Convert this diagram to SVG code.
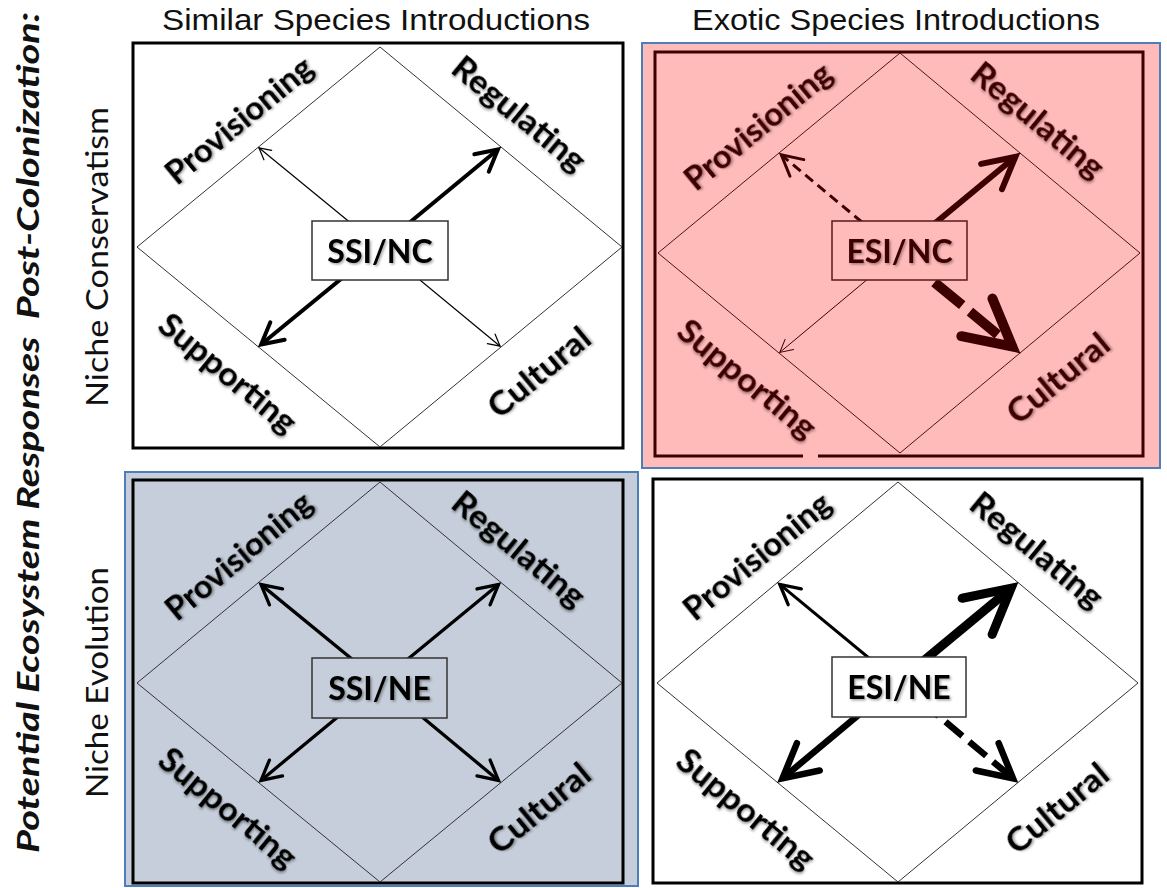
<svg xmlns="http://www.w3.org/2000/svg" width="1167" height="888" viewBox="0 0 1167 888">
<style>
.hdr{font-family:"Liberation Sans",Arial,sans-serif;font-size:30px;text-anchor:middle;fill:#111}
.side{font-family:Lato,"Liberation Sans",sans-serif;font-size:30px;text-anchor:middle;fill:#111}
.title{font-family:Lato,"Liberation Sans",sans-serif;font-size:31px;font-weight:700;font-style:italic;text-anchor:middle;fill:#111}
.lbl{font-family:Lato,"Liberation Sans",sans-serif;font-size:32px;font-weight:700;text-anchor:middle;dominant-baseline:central;fill:#000;filter:url(#sh)}
.lbl.red{fill:#3c0000}
.bt{font-family:Lato,"Liberation Sans",sans-serif;font-size:32px;font-weight:700;text-anchor:middle;fill:#000;filter:url(#sh)}
.bt.red{fill:#3c0000}
.frame{fill:none;stroke:#000;stroke-width:3}
.dia{fill:none;stroke:#333;stroke-width:1}
.dia.red{stroke:#4a1414}
.box{fill:#fff;stroke:#333;stroke-width:1.5}
.blue{stroke:#4f7db8;stroke-width:2}
.k{fill:none;stroke:#000;stroke-linecap:butt}
.r{fill:none;stroke:#3c0000;stroke-linecap:butt}
</style>
<defs>
<filter id="sh" x="-20%" y="-40%" width="140%" height="180%"><feDropShadow dx="1.5" dy="1.5" stdDeviation="1.2" flood-color="#000" flood-opacity="0.35"/></filter>
<marker id="k1" markerUnits="userSpaceOnUse" orient="auto" overflow="visible" markerWidth="10" markerHeight="10"><path d="M-11.5,-6.1L0,0L-11.5,6.1" fill="none" stroke="#000" stroke-width="1.2" stroke-linecap="round"/></marker>
<marker id="k3" markerUnits="userSpaceOnUse" orient="auto" overflow="visible" markerWidth="10" markerHeight="10"><path d="M-19.4,-10.3L0,0L-19.4,10.3" fill="none" stroke="#000" stroke-width="3.3" stroke-linecap="round"/></marker>
<marker id="k4" markerUnits="userSpaceOnUse" orient="auto" overflow="visible" markerWidth="10" markerHeight="10"><path d="M-21.2,-11.3L0,0L-21.2,11.3" fill="none" stroke="#000" stroke-width="4" stroke-linecap="round"/></marker>
<marker id="k65" markerUnits="userSpaceOnUse" orient="auto" overflow="visible" markerWidth="10" markerHeight="10"><path d="M-33.6,-17.8L0,0L-33.6,17.8" fill="none" stroke="#000" stroke-width="6.5" stroke-linecap="round"/></marker>
<marker id="k9" markerUnits="userSpaceOnUse" orient="auto" overflow="visible" markerWidth="10" markerHeight="10"><path d="M-44.1,-23.5L0,0L-44.1,23.5" fill="none" stroke="#000" stroke-width="9" stroke-linecap="round"/></marker>
<marker id="r1" markerUnits="userSpaceOnUse" orient="auto" overflow="visible" markerWidth="10" markerHeight="10"><path d="M-12.4,-6.6L0,0L-12.4,6.6" fill="none" stroke="#3c0000" stroke-width="1" stroke-linecap="round"/></marker>
<marker id="r3" markerUnits="userSpaceOnUse" orient="auto" overflow="visible" markerWidth="10" markerHeight="10"><path d="M-20.3,-10.8L0,0L-20.3,10.8" fill="none" stroke="#3c0000" stroke-width="3" stroke-linecap="round"/></marker>
<marker id="r6" markerUnits="userSpaceOnUse" orient="auto" overflow="visible" markerWidth="10" markerHeight="10"><path d="M-30.9,-16.4L0,0L-30.9,16.4" fill="none" stroke="#3c0000" stroke-width="6" stroke-linecap="round"/></marker>
<marker id="r10" markerUnits="userSpaceOnUse" orient="auto" overflow="visible" markerWidth="10" markerHeight="10"><path d="M-45.9,-24.4L0,0L-45.9,24.4" fill="none" stroke="#3c0000" stroke-width="10" stroke-linecap="round"/></marker>
</defs>
<rect x="0" y="0" width="1167" height="888" fill="#fff"/>

<g id="headers">
<text class="hdr" x="376" y="30" textLength="428" lengthAdjust="spacingAndGlyphs">Similar Species Introductions</text>
<text class="hdr" x="896" y="30" textLength="408" lengthAdjust="spacingAndGlyphs">Exotic Species Introductions</text>
<text class="title" transform="translate(39,432.5) rotate(-90)" textLength="841" lengthAdjust="spacingAndGlyphs" xml:space="preserve">Potential Ecosystem Responses  Post-Colonization:</text>
<text class="side" transform="translate(108,257) rotate(-90)" textLength="300" lengthAdjust="spacingAndGlyphs">Niche Conservatism</text>
<text class="side" transform="translate(108,682.5) rotate(-90)" textLength="231" lengthAdjust="spacingAndGlyphs">Niche Evolution</text>
</g>

<g id="panel-ssi-nc">
<rect class="frame" x="133" y="43" width="490" height="405" fill="#fff"/>
<polygon class="dia" points="380,47 622,247 380,447 137,247"/>
<text class="lbl" transform="translate(238,119) rotate(-39.5)" textLength="180" lengthAdjust="spacingAndGlyphs">Provisioning</text>
<text class="lbl" transform="translate(520,113) rotate(39.5)" textLength="162" lengthAdjust="spacingAndGlyphs">Regulating</text>
<text class="lbl" transform="translate(229,372) rotate(39.5)" textLength="168" lengthAdjust="spacingAndGlyphs">Supporting</text>
<text class="lbl" transform="translate(538,371) rotate(-39.5)" textLength="122" lengthAdjust="spacingAndGlyphs">Cultural</text>
</g>

<g id="panel-esi-nc">
<rect x="642" y="43" width="518" height="425" fill="#ffbaba" class="blue"/>
<path d="M803,456H655V52H1143V456H818" fill="none" stroke="#3c0000" stroke-width="3"/>
<polygon class="dia red" points="900,53 1140,253 900,453 658,253"/>
<text class="lbl red" transform="translate(757,125) rotate(-39.5)" textLength="180" lengthAdjust="spacingAndGlyphs">Provisioning</text>
<text class="lbl red" transform="translate(1039,119) rotate(39.5)" textLength="162" lengthAdjust="spacingAndGlyphs">Regulating</text>
<text class="lbl red" transform="translate(748,378) rotate(39.5)" textLength="168" lengthAdjust="spacingAndGlyphs">Supporting</text>
<text class="lbl red" transform="translate(1057,377) rotate(-39.5)" textLength="122" lengthAdjust="spacingAndGlyphs">Cultural</text>
</g>

<g id="panel-ssi-ne">
<rect x="125" y="472" width="513" height="414" fill="#c5ceda" class="blue"/>
<rect class="frame" x="133" y="480" width="490" height="403"/>
<polygon class="dia" points="380,482 622,683 380,882 137,683"/>
<text class="lbl" transform="translate(238,555) rotate(-39.5)" textLength="180" lengthAdjust="spacingAndGlyphs">Provisioning</text>
<text class="lbl" transform="translate(520,548) rotate(39.5)" textLength="162" lengthAdjust="spacingAndGlyphs">Regulating</text>
<text class="lbl" transform="translate(229,807) rotate(39.5)" textLength="168" lengthAdjust="spacingAndGlyphs">Supporting</text>
<text class="lbl" transform="translate(538,807) rotate(-39.5)" textLength="122" lengthAdjust="spacingAndGlyphs">Cultural</text>
</g>

<g id="panel-esi-ne">
<rect class="frame" x="653" y="479" width="489" height="404" fill="#fff"/>
<polygon class="dia" points="898,482 1138,683 898,882 657,683"/>
<text class="lbl" transform="translate(756,555) rotate(-39.5)" textLength="180" lengthAdjust="spacingAndGlyphs">Provisioning</text>
<text class="lbl" transform="translate(1038,549) rotate(39.5)" textLength="162" lengthAdjust="spacingAndGlyphs">Regulating</text>
<text class="lbl" transform="translate(747,808) rotate(39.5)" textLength="168" lengthAdjust="spacingAndGlyphs">Supporting</text>
<text class="lbl" transform="translate(1056,807) rotate(-39.5)" textLength="122" lengthAdjust="spacingAndGlyphs">Cultural</text>
</g>

<g id="connectors">
<line class="k" x1="380" y1="247" x2="258.9" y2="147.8" stroke-width="1.2" marker-end="url(#k1)"/>
<line class="k" x1="380" y1="247" x2="497.9" y2="149.5" stroke-width="4" marker-end="url(#k4)"/>
<line class="k" x1="380" y1="247" x2="261.1" y2="344.5" stroke-width="4" marker-end="url(#k4)"/>
<line class="k" x1="380" y1="247" x2="500.1" y2="346.2" stroke-width="1.2" marker-end="url(#k1)"/>

<line class="r" x1="899" y1="253" x2="781.3" y2="154.9" stroke-width="3" stroke-dasharray="10 6" marker-end="url(#r3)"/>
<line class="r" x1="899" y1="253" x2="1015.4" y2="156.8" stroke-width="6" marker-end="url(#r6)"/>
<line class="r" x1="899" y1="253" x2="1012.3" y2="346.6" stroke-width="10" stroke-dasharray="36 10" marker-end="url(#r10)"/>
<line class="r" x1="899" y1="253" x2="779.8" y2="352.4" stroke-width="1" marker-end="url(#r1)"/>

<line class="k" x1="380" y1="682" x2="261" y2="584.6" stroke-width="3.3" marker-end="url(#k3)"/>
<line class="k" x1="380" y1="682" x2="498.5" y2="584.6" stroke-width="3.3" marker-end="url(#k3)"/>
<line class="k" x1="380" y1="682" x2="261" y2="780.4" stroke-width="3.3" marker-end="url(#k3)"/>
<line class="k" x1="380" y1="682" x2="498.5" y2="780.4" stroke-width="3.3" marker-end="url(#k3)"/>

<line class="k" x1="898" y1="682" x2="779.8" y2="584.4" stroke-width="3" marker-end="url(#k3)"/>
<line class="k" x1="898" y1="682" x2="1011.1" y2="588.2" stroke-width="9" marker-end="url(#k9)"/>
<line class="k" x1="898" y1="682" x2="782.5" y2="778.4" stroke-width="6.5" marker-end="url(#k65)"/>
<line class="k" x1="898" y1="682" x2="1013" y2="778.4" stroke-width="6.5" stroke-dasharray="22 9" marker-end="url(#k65)"/>
</g>

<g id="node-ssi-nc">
<rect class="box" x="312" y="221" width="136" height="59"/>
<text class="bt" x="380" y="262.5">SSI/NC</text>
</g>
<g id="node-esi-nc">
<rect class="box" x="832" y="221" width="135" height="59" style="fill:#ffbaba;stroke:#5a1a1a"/>
<text class="bt red" x="899.5" y="262.5">ESI/NC</text>
</g>
<g id="node-ssi-ne">
<rect class="box" x="312" y="658" width="135" height="60" style="fill:#c5ceda"/>
<text class="bt" x="379.5" y="699.5">SSI/NE</text>
</g>
<g id="node-esi-ne">
<rect class="box" x="832" y="657" width="134" height="60"/>
<text class="bt" x="899" y="698.5">ESI/NE</text>
</g>
</svg>
